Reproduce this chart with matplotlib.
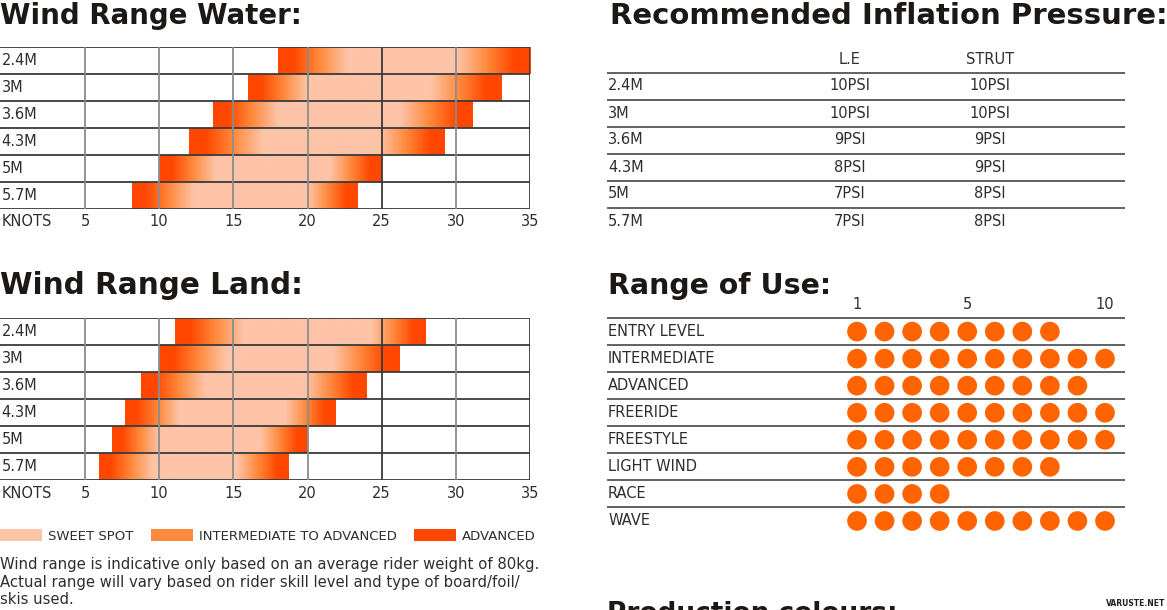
import numpy as np
import matplotlib
matplotlib.use("Agg")
import matplotlib.pyplot as plt
from matplotlib.patches import Patch
from matplotlib.transforms import blended_transform_factory

# ---------------- data ----------------
sizes = ["2.4M", "3M", "3.6M", "4.3M", "5M", "5.7M"]
knot_ticks = [5, 10, 15, 20, 25, 30, 35]

water_low = [18.0, 16.0, 13.6, 12.0, 10.0, 8.2]
water_sweet_lo = [22.7, 20.0, 18.0, 17.0, 13.8, 12.4]
water_sweet_hi = [30.0, 28.3, 26.2, 24.8, 21.5, 20.0]
water_high = [35.0, 33.1, 31.1, 29.2, 25.0, 23.4]

land_low = [11.1, 10.0, 8.8, 7.7, 6.8, 5.95]
land_sweet_lo = [15.7, 14.5, 13.1, 11.4, 10.0, 9.6]
land_sweet_hi = [24.3, 21.7, 19.9, 18.5, 16.8, 15.2]
land_high = [28.0, 26.2, 24.0, 21.9, 20.0, 18.7]

pressure_cols = ["L.E", "STRUT"]
pressure_le = ["10PSI", "10PSI", "9PSI", "8PSI", "7PSI", "7PSI"]
pressure_strut = ["10PSI", "10PSI", "9PSI", "9PSI", "8PSI", "8PSI"]

uses = ["ENTRY LEVEL", "INTERMEDIATE", "ADVANCED", "FREERIDE",
        "FREESTYLE", "LIGHT WIND", "RACE", "WAVE"]
use_scores = [8, 10, 9, 10, 10, 8, 4, 10]
scale_ticks = [1, 5, 10]

legend_labels = ["SWEET SPOT", "INTERMEDIATE TO ADVANCED", "ADVANCED"]

# ---------------- style ----------------
C_SWEET = np.array([0xFD, 0xC4, 0xA8]) / 255
C_INTER = np.array([0xFF, 0x8A, 0x3D]) / 255
C_ADV = np.array([0xFF, 0x47, 0x00]) / 255
C_DOT = "#FF6400"
TXT = "#2e2e2e"
TITLE = "#1c1816"
LINE_DARK = "#3a3a3a"
LINE_GRAY = "#8c8c8c"
FONT = "DejaVu Sans"
plt.rcParams["font.family"] = [FONT]

W, H = 1167, 610
fig = plt.figure(figsize=(W / 100, H / 100), dpi=100)
renderer = fig.canvas.get_renderer()


def add_ax(x0, y0, x1, y1):
    ax = fig.add_axes([x0 / W, 1 - y1 / H, (x1 - x0) / W, (y1 - y0) / H])
    ax.set_axis_off()
    return ax


def ftext(x, y, s, width=None, size=11, **kw):
    t = fig.text(x / W, 1 - y / H, s, fontsize=size, **kw)
    if width is not None:
        bb = t.get_window_extent(renderer=renderer)
        t.set_fontsize(size * width / bb.width)
    return t


def wind_chart(top, low, slo, shi, high):
    n = len(sizes)
    ppk = (530 - 85) / 30.0
    x0 = 5 - 85 / ppk
    ax = add_ax(0, top, 530, top + 27 * n)
    for i in range(n):
        xs = np.linspace(low[i], high[i], 600)
        dl = slo[i] - low[i]
        dh = high[i] - shi[i]
        stops = [low[i], low[i] + 0.22 * dl, low[i] + 0.6 * dl, slo[i],
                 shi[i], high[i] - 0.6 * dh, high[i] - 0.22 * dh, high[i]]
        cols = [C_ADV, C_ADV, C_INTER, C_SWEET, C_SWEET, C_INTER, C_ADV, C_ADV]
        img = np.stack([np.interp(xs, stops, [c[k] for c in cols]) for k in range(3)], axis=-1)
        ax.imshow(img[None, :, :], extent=(low[i], high[i], i + 0.5, i - 0.5),
                  aspect="auto", interpolation="bilinear", zorder=1)
    ax.set_xlim(x0, 35)
    ax.set_ylim(n - 0.5, -0.5)
    for k in range(n + 1):
        ax.axhline(k - 0.5, color=LINE_DARK, lw=1.3, zorder=3)
    for k in knot_ticks:
        ax.axvline(k, color=LINE_DARK if k in (25, 35) else LINE_GRAY, lw=1.3, zorder=3)
    tr = blended_transform_factory(ax.transAxes, ax.transData)
    for i, s in enumerate(sizes):
        ax.text(0.003, i, s, transform=tr, va="center", ha="left", fontsize=10.5, color=TXT)
    trb = blended_transform_factory(ax.transData, ax.transAxes)
    for k in knot_ticks:
        ax.text(k, -13 / (27 * n), str(k), transform=trb, va="center", ha="center",
                fontsize=10.5, color=TXT)
    ax.text(0.003, -13 / (27 * n), "KNOTS", transform=ax.transAxes,
            va="center", ha="left", fontsize=10.5, color=TXT)
    return ax


# titles
ftext(0, 16, "Wind Range Water:", width=300, size=22, weight="bold", color=TITLE, va="center")
ftext(610, 16, "Recommended Inflation Pressure:", width=555, size=22, weight="bold", color=TITLE, va="center")
ftext(0, 286, "Wind Range Land:", width=302, size=22, weight="bold", color=TITLE, va="center")
ftext(608, 286, "Range of Use:", width=222, size=22, weight="bold", color=TITLE, va="center")
ftext(607, 601, "Production colours:", width=290, size=22, weight="bold", color=TITLE, va="top")
ftext(1165, 603, "VARUSTE.NET", size=5.5, weight="bold", color="#222222", va="center", ha="right")

wind_chart(47, water_low, water_sweet_lo, water_sweet_hi, water_high)
wind_chart(318, land_low, land_sweet_lo, land_sweet_hi, land_high)

# legend
handles = [Patch(facecolor=c, edgecolor="none", label=l)
           for c, l in zip([C_SWEET, C_INTER, C_ADV], legend_labels)]
fig.legend(handles=handles, ncol=3, loc="upper left", bbox_to_anchor=(0, 1 - 529 / H),
           frameon=False, fontsize=9.5, handlelength=3.2, handleheight=1.05,
           handletextpad=0.45, columnspacing=1.3, borderaxespad=0, borderpad=0,
           labelcolor=TXT)

# footnote
foot = ["Wind range is indicative only based on an average rider weight of 80kg.",
        "Actual range will vary based on rider skill level and type of board/foil/",
        "skis used."]
t0 = ftext(0, 565, foot[0], width=540, size=11, color=TXT, va="center")
fs = t0.get_fontsize()
ftext(0, 582.5, foot[1], size=fs, color=TXT, va="center")
ftext(0, 600, foot[2], size=fs, color=TXT, va="center")

# pressure table
axp = add_ax(607, 45.5, 1125, 234.5)
axp.set_xlim(0, 1)
axp.set_ylim(len(sizes) - 0.5, -1.5)
col_x = [(850 - 607) / 518, (990 - 607) / 518]
for cx, c in zip(col_x, pressure_cols):
    axp.text(cx, -1, c, ha="center", va="center", fontsize=10.5, color=TXT)
for i, s in enumerate(sizes):
    axp.axhline(i - 0.5, color="#555555", lw=1.3)
    axp.text(0.002, i, s, ha="left", va="center", fontsize=10.5, color=TXT)
    axp.text(col_x[0], i, pressure_le[i], ha="center", va="center", fontsize=10.5, color=TXT)
    axp.text(col_x[1], i, pressure_strut[i], ha="center", va="center", fontsize=10.5, color=TXT)

# range of use
axr = add_ax(607, 291, 1125, 534.5)
ppu = (1105 - 857) / 9.0
axr.set_xlim(1 - (857 - 607) / ppu, 10 + (1125 - 1105) / ppu)
axr.set_ylim(len(uses) - 0.5, -1.5)
trr = blended_transform_factory(axr.transAxes, axr.transData)
for k in scale_ticks:
    axr.text(k, -1, str(k), ha="center", va="center", fontsize=10.5, color=TXT)
for i, (u, n) in enumerate(zip(uses, use_scores)):
    axr.axhline(i - 0.5, color="#555555", lw=1.3)
    axr.text(0.002, i, u, transform=trr, ha="left", va="center", fontsize=10.5, color=TXT)
    axr.scatter(np.arange(1, n + 1), [i] * n, s=200, color=C_DOT, edgecolors="none", zorder=3)

fig.savefig("out.png", dpi=100)
